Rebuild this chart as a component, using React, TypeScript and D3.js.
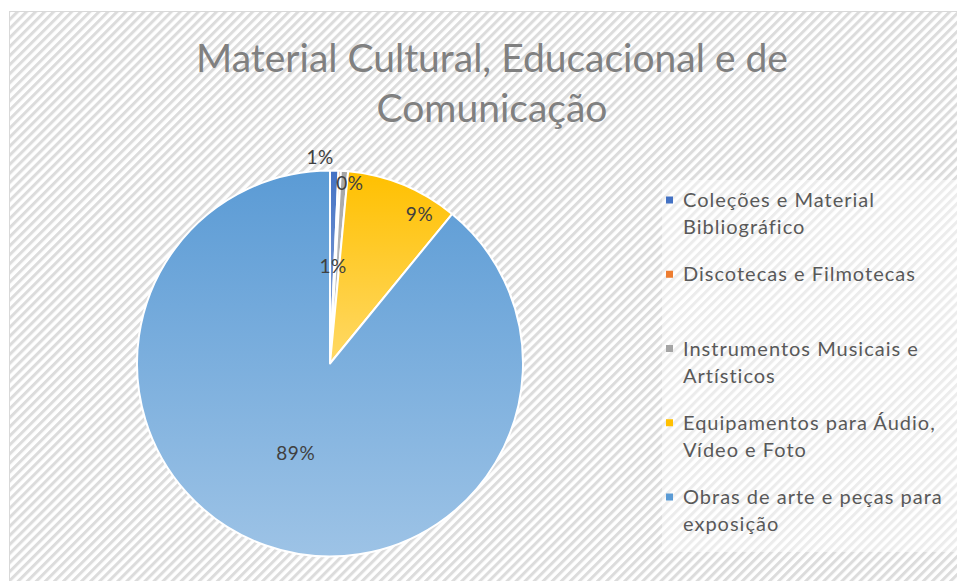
import React, { useEffect, useRef } from 'react';
import * as d3 from 'd3';

const title = ['Material Cultural, Educacional e de', 'Comunicação'];
const categories = [
  'Coleções e Material Bibliográfico',
  'Discotecas e Filmotecas',
  'Instrumentos Musicais e Artísticos',
  'Equipamentos para Áudio, Vídeo e Foto',
  'Obras de arte e peças para exposição',
];
const legendLines = [
  ['Coleções e Material', 'Bibliográfico'],
  ['Discotecas e Filmotecas'],
  ['Instrumentos Musicais e', 'Artísticos'],
  ['Equipamentos para Áudio,', 'Vídeo e Foto'],
  ['Obras de arte e peças para', 'exposição'],
];
const values = [0.7, 0.2, 0.6, 9.4, 89.1];
const colors = ['#4472c4', '#ed7d31', '#a5a5a5', '#ffc000', '#5b9bd5'];

// "best fit" nudges for the data labels: [angle offset in degrees, radius factor]
const labelNudge: [number, number][] = [
  [-4, 1.07],
  [3.4, 0.94],
  [-2.5, 0.505],
  [8.7, 0.9],
  [1.2, 0.5],
];

const App = () => {
  const ref = useRef<SVGSVGElement>(null);

  useEffect(() => {
    const width = 957;
    const height = 581;
    const cx = 330;
    const cy = 363.5;
    const radius = 193;
    const font = 'Lato, "Open Sans", sans-serif';

    const svg = d3.select(ref.current);
    svg.selectAll('*').remove();

    const defs = svg.append('defs');
    const pat = defs.append('pattern')
      .attr('id', 'stripes')
      .attr('patternUnits', 'userSpaceOnUse')
      .attr('width', 6.4)
      .attr('height', 6.4)
      .attr('patternTransform', 'rotate(45)');
    pat.append('rect').attr('width', 6.4).attr('height', 6.4).attr('fill', '#ffffff');
    pat.append('rect').attr('width', 3).attr('height', 6.4).attr('fill', '#dcdcdc');

    colors.forEach((c, i) => {
      const g = defs.append('linearGradient')
        .attr('id', `grad${i}`)
        .attr('x1', 0).attr('y1', 0).attr('x2', 0).attr('y2', 1);
      g.append('stop').attr('offset', '0%').attr('stop-color', c);
      g.append('stop').attr('offset', '100%').attr('stop-color', d3.interpolateRgb(c, '#ffffff')(0.4));
    });

    svg.append('rect')
      .attr('width', width).attr('height', height).attr('fill', '#ffffff');
    svg.append('rect')
      .attr('x', 9.5).attr('y', 11.5)
      .attr('width', width + 20).attr('height', height + 20)
      .attr('fill', 'url(#stripes)')
      .attr('stroke', '#d9d9d9');

    // legend background
    svg.append('rect')
      .attr('x', 662).attr('y', 180)
      .attr('width', width - 662).attr('height', 372)
      .attr('fill', '#ffffff').attr('opacity', 0.45);

    svg.append('g')
      .selectAll('text')
      .data(title)
      .join('text')
      .attr('x', 492)
      .attr('y', (d, i) => 72 + i * 50)
      .attr('text-anchor', 'middle')
      .attr('font-family', font)
      .attr('font-size', 39)
      .attr('fill', '#808080')
      .text(d => d);

    const pie = d3.pie<number>().sort(null).value(d => d);
    const arcs = pie(values);
    const arc = d3.arc<d3.PieArcDatum<number>>().innerRadius(0).outerRadius(radius);

    const g = svg.append('g').attr('transform', `translate(${cx},${cy})`);
    g.selectAll('path')
      .data(arcs)
      .join('path')
      .attr('d', arc)
      .attr('fill', (d, i) => `url(#grad${i})`)
      .attr('stroke', '#ffffff')
      .attr('stroke-width', 2)
      .attr('stroke-linejoin', 'round');

    const total = d3.sum(values);
    const pct = d3.format('.0%');
    g.selectAll('text')
      .data(arcs)
      .join('text')
      .attr('transform', (d, i) => {
        const [off, k] = labelNudge[i];
        const a = (d.startAngle + d.endAngle) / 2 + (off * Math.PI) / 180;
        const r = radius * k;
        return `translate(${r * Math.sin(a)},${-r * Math.cos(a)})`;
      })
      .attr('text-anchor', 'middle')
      .attr('dy', '0.35em')
      .attr('font-family', font)
      .attr('font-size', 19)
      .attr('letter-spacing', 0.6)
      .attr('fill', '#404040')
      .text(d => pct(d.data / total));

    const y = d3.scaleLinear().domain([0, categories.length - 1]).range([200, 497]);
    const items = svg.append('g')
      .selectAll('g')
      .data(categories)
      .join('g')
      .attr('transform', (d, i) => `translate(666,${y(i)})`);
    items.append('rect')
      .attr('x', 0).attr('y', -3.5)
      .attr('width', 7).attr('height', 7)
      .attr('fill', (d, i) => colors[i]);
    items.each(function (d, i) {
      d3.select(this).selectAll('text')
        .data(legendLines[i])
        .join('text')
        .attr('x', 17)
        .attr('y', (t, j) => j * 27)
        .attr('dy', '0.35em')
        .attr('font-family', font)
        .attr('font-size', 20)
        .attr('letter-spacing', 1)
        .attr('fill', '#595959')
        .text(t => t);
    });
  }, []);

  return (
    <svg
      ref={ref}
      width={957}
      height={581}
      style={{ position: 'absolute', left: 0, top: 0 }}
    ></svg>
  );
};

export default App;
